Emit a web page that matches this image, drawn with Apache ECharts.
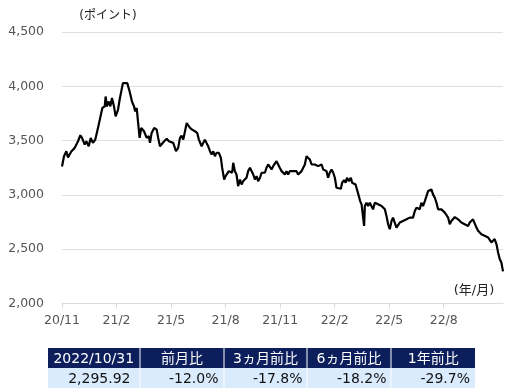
<!DOCTYPE html>
<html>
<head>
<meta charset="utf-8">
<script src="https://cdn.jsdelivr.net/npm/echarts@6/dist/echarts.min.js"></script>
<style>
html,body{margin:0;padding:0;background:#fff;}
#main{width:529px;height:390px;}
</style>
</head>
<body>
<div id="main"></div>
<script>
// Position along the x axis, in months elapsed since 2020/11
const monthPos = [0,0.11,0.24,0.33,0.51,0.70,0.79,0.88,1.01,1.10,1.25,1.34,1.47,1.58,1.70,1.83,1.94,2.02,2.13,2.22,2.35,2.40,2.47,2.57,2.66,2.75,2.86,2.95,3.08,3.17,3.26,3.35,3.59,3.72,3.85,3.96,4.03,4.11,4.18,4.27,4.36,4.51,
4.56,4.66,4.78,4.84,4.93,5.07,5.21,5.29,5.39,5.48,5.62,5.76,5.88,5.99,6.12,6.27,6.39,6.49,6.58,6.67,6.76,6.86,6.94,7.04,7.16,7.31,7.44,7.53,7.68,7.77,7.86,7.95,8.04,8.14,8.23,8.32,8.41,8.50,8.63,8.74,8.81,8.92,9.00,9.11,9.18,9.29,9.36,9.42,
9.51,9.60,9.69,9.79,9.88,9.97,10.06,10.15,10.24,10.34,10.43,10.52,10.61,10.70,10.79,10.89,10.98,11.16,11.25,11.34,11.43,11.53,11.62,11.71,11.80,11.89,11.98,12.08,12.17,12.26,12.35,12.44,12.53,12.63,12.72,12.81,12.90,12.99,13.08,13.18,13.27,13.36,13.45,13.54,13.63,13.73,13.82,13.91,14.00,14.09,14.18,14.28,14.37,
14.46,14.55,14.64,14.73,14.83,14.92,15.01,15.10,15.19,15.34,15.41,15.52,15.60,15.68,15.78,15.89,15.96,16.07,16.15,16.26,16.33,16.40,16.48,16.56,16.62,16.66,16.75,16.84,16.93,17.03,17.11,17.21,17.30,17.39,17.48,17.58,17.66,17.76,17.85,17.94,18.03,18.13,18.21,18.31,18.40,18.49,18.58,18.67,18.76,18.86,18.95,19.04,19.13,19.22,19.31,
19.41,19.50,19.59,19.68,19.77,19.86,19.96,20.05,20.14,20.23,20.32,20.41,20.51,20.60,20.69,20.78,20.87,20.96,21.06,21.15,21.24,21.33,21.42,21.51,21.61,21.70,21.79,21.88,21.97,22.06,22.15,22.25,22.34,22.43,22.52,22.61,22.70,22.80,22.89,22.98,23.07,23.16,23.25,23.35,23.44,23.53,23.62,23.71,23.80,23.90,23.99,24.08,24.17,24.26];

// Index level (points)
const values = [3262,3356,3402,3344,3400,3433,3463,3494,3549,3525,3463,3494,3448,3525,3479,3509,3518,3647,3662,3800,3815,3906,3815,3860,3815,3892,3815,3723,3784,3876,3892,4029,4029,3952,3860,3815,3769,3800,3677,3525,3617,3586,
3586,3525,3540,3479,3571,3617,3601,3525,3448,3433,3494,3516,3494,3509,3479,3402,3433,3525,3546,3509,3494,3662,3662,3617,3601,3586,3571,3509,3448,3433,3509,3525,3448,3402,3372,3402,3356,3387,3387,3341,3250,3142,3173,3158,3219,3234,3204,3296,
3219,3188,3081,3142,3096,3127,3112,3158,3219,3250,3234,3188,3142,3173,3127,3158,3204,3204,3250,3280,3265,3234,3265,3280,3311,3296,3250,3219,3204,3188,3219,3188,3219,3204,3219,3204,3219,3188,3173,3219,3250,3280,3356,3372,3326,3280,3296,3280,3296,3265,3250,3280,3234,
3234,3219,3158,3204,3234,3204,3158,3066,3057,3057,3112,3136,3112,3158,3127,3158,3112,3127,3096,3081,2989,2943,2913,2928,2714,2897,2928,2897,2928,2928,2867,2928,2943,2913,2928,2897,2913,2867,2806,2730,2684,2760,2791,2775,2699,2714,2745,2730,2760,2745,2775,2760,2791,2806,2791,
2852,2883,2897,2867,2928,2897,2943,2989,3035,3050,3050,3005,2974,2928,2867,2883,2867,2852,2837,2821,2791,2730,2760,2745,2796,2791,2775,2760,2745,2760,2730,2745,2714,2745,2745,2775,2760,2699,2669,2653,2638,2623,2623,2623,2608,2608,2562,2577,2593,2547,2470,2409,2378,2295.92];

const tickPos = [0,3,6,9,12,15,18,21];
const tickLabels = ['20/11','21/2','21/5','21/8','21/11','22/2','22/5','22/8'];

const yMin = 2000, yMax = 4500, yStep = 500;

const tableHeaders = ['2022/10/31','前月比','3ヵ月前比','6ヵ月前比','1年前比'];
const tableValues = ['2,295.92','-12.0%','-17.8%','-18.2%','-29.7%'];

const FONT = '"DejaVu Sans", "Noto Sans CJK JP", sans-serif';
const chart = echarts.init(document.getElementById('main'), null, {renderer:'canvas'});

// table layout
const colEdges = [48, 139.5, 223.5, 306.5, 390.5, 475];
const padRight = [9, 5, 4, 4, 5];
const headTop = 348, rowH = 20;
const graphics = [];
for (let i = 0; i < tableHeaders.length; i++) {
  const x0 = colEdges[i] + (i === 0 ? 0 : 1);
  const x1 = colEdges[i + 1];
  graphics.push({type:'rect', shape:{x:x0, y:headTop, width:x1 - x0, height:rowH}, style:{fill:'#0c1f5c'}, silent:true});
  graphics.push({type:'rect', shape:{x:x0, y:headTop + rowH, width:x1 - x0, height:rowH}, style:{fill:'#d9ebfd'}, silent:true});
  graphics.push({type:'text', x:(x0 + x1) / 2, y:headTop + rowH / 2 + 1, style:{text:tableHeaders[i], fill:'#ffffff', font:'14px ' + FONT, align:'center', verticalAlign:'middle'}, silent:true});
  graphics.push({type:'text', x:x1 - padRight[i], y:headTop + rowH * 1.5 + 1, style:{text:tableValues[i], fill:'#111111', font:'14px ' + FONT, align:'right', verticalAlign:'middle'}, silent:true});
}
graphics.push({type:'text', x:108, y:16, style:{text:'(ポイント)', fill:'#222', font:'12px ' + FONT, align:'center', verticalAlign:'middle'}, silent:true});
graphics.push({type:'text', x:474, y:291, style:{text:'(年/月)', fill:'#222', font:'13px ' + FONT, align:'center', verticalAlign:'middle'}, silent:true});

const option = {
  animation: false,
  backgroundColor: '#ffffff',
  grid: {left: 62, right: 26, top: 32, bottom: 86.5, containLabel: false},
  xAxis: {
    type: 'value', min: 0, max: monthPos[monthPos.length - 1], interval: 3,
    axisLine: {show: true, lineStyle: {color: '#dcdcdc', width: 1}},
    axisTick: {show: true, length: 5, lineStyle: {color: '#dcdcdc'}, customValues: tickPos},
    axisLabel: {
      customValues: tickPos,
      color: '#555', fontSize: 12.5, fontFamily: FONT, margin: 11,
      formatter: function (v) { const i = tickPos.indexOf(Math.round(v * 100) / 100); return i >= 0 ? tickLabels[i] : ''; }
    },
    splitLine: {show: false}
  },
  yAxis: {
    type: 'value', min: yMin, max: yMax, interval: yStep,
    axisLine: {show: false}, axisTick: {show: false},
    axisLabel: {color: '#555', fontSize: 12.5, fontFamily: FONT, margin: 18,
      formatter: function (v) { return v.toLocaleString('en-US'); }},
    splitLine: {show: true, lineStyle: {color: '#dedede', width: 1}}
  },
  series: [{
    type: 'line',
    data: monthPos.map((m, i) => [m, values[i]]),
    showSymbol: false, symbol: 'none',
    lineStyle: {color: '#000000', width: 2.2},
    silent: true
  }],
  graphic: graphics
};
chart.setOption(option);
</script>
</body>
</html>
